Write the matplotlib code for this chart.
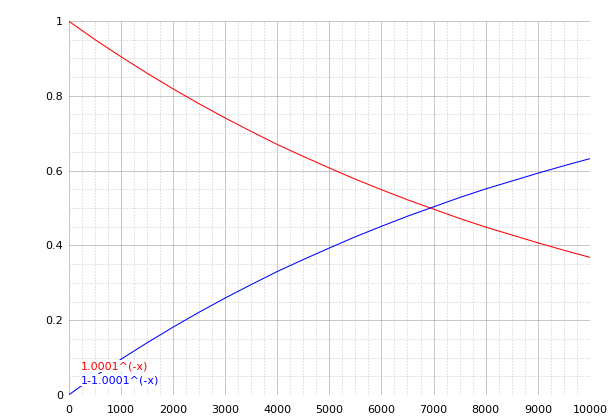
import matplotlib
matplotlib.use("Agg")
import matplotlib.pyplot as plt
import numpy as np

# values every 500
x_vals = [0, 500, 1000, 1500, 2000, 2500, 3000, 3500, 4000, 4500, 5000,
          5500, 6000, 6500, 7000, 7500, 8000, 8500, 9000, 9500, 10000]
red_vals = [1.000, 0.951, 0.905, 0.861, 0.819, 0.779, 0.741, 0.705, 0.670, 0.638, 0.607,
            0.577, 0.549, 0.522, 0.497, 0.472, 0.449, 0.428, 0.407, 0.387, 0.368]
blue_vals = [0.000, 0.049, 0.095, 0.139, 0.181, 0.221, 0.259, 0.295, 0.330, 0.362, 0.393,
             0.423, 0.451, 0.478, 0.503, 0.528, 0.551, 0.572, 0.593, 0.613, 0.632]
red_label = "1.0001^(-x)"
blue_label = "1-1.0001^(-x)"
x_ticks = [0, 1000, 2000, 3000, 4000, 5000, 6000, 7000, 8000, 9000, 10000]
y_ticks = [0, 0.2, 0.4, 0.6, 0.8, 1.0]
y_ticklabels = ["0", "0.2", "0.4", "0.6", "0.8", "1"]

plt.rcParams['font.family'] = ['DejaVu Sans']
fig = plt.figure(figsize=(6.12, 4.19), dpi=100)
ax = fig.add_axes([68.5 / 612, 24 / 419, 521.5 / 612, 374 / 419])

ax.plot(x_vals, red_vals, color="#ff0000", lw=0.75, zorder=3)
ax.plot(x_vals, blue_vals, color="#0000ff", lw=0.75, zorder=3)

ax.set_xlim(0, 10000)
ax.set_ylim(0, 1)
ax.set_xticks(x_ticks)
ax.set_xticklabels([str(t) for t in x_ticks])
ax.set_yticks(y_ticks)
ax.set_yticklabels(y_ticklabels)
ax.set_xticks(np.arange(0, 10001, 250), minor=True)
ax.set_yticks(np.arange(0, 1.001, 0.05), minor=True)
ax.tick_params(which="both", length=0)
ax.tick_params(axis="x", pad=7, labelsize=8)
ax.tick_params(axis="y", pad=4, labelsize=8)

ax.grid(which="minor", color="#c8c8c8", linestyle=(0, (1, 2)), lw=0.72)
ax.grid(which="major", color="#909090", linestyle=(0, (1, 1)), lw=0.72)
ax.set_axisbelow(True)
for s in ax.spines.values():
    s.set_visible(False)

# legend labels with white boxes behind text
ax.text(0.024, 0.0695, red_label, color="#ff0000", fontsize=8, va="baseline",
        transform=ax.transAxes, zorder=5,
        bbox=dict(facecolor="white", edgecolor="none", pad=0.5))
ax.text(0.024, 0.032, blue_label, color="#0000ff", fontsize=8, va="baseline",
        transform=ax.transAxes, zorder=5,
        bbox=dict(facecolor="white", edgecolor="none", pad=0.5))

fig.savefig("out.png", dpi=100)
